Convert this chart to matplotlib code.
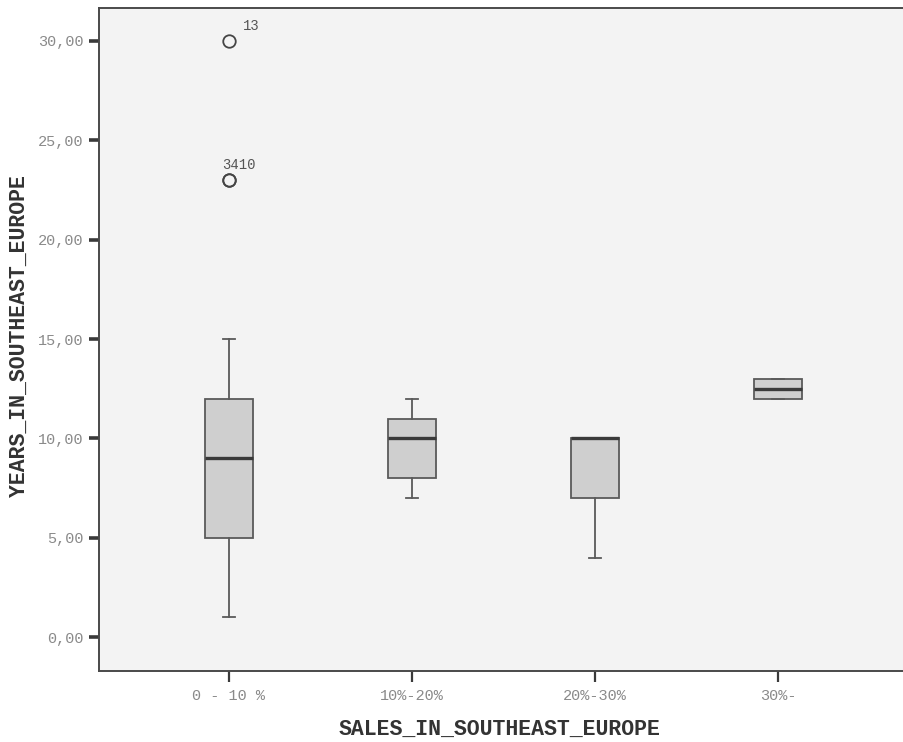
import matplotlib
matplotlib.use("Agg")
import matplotlib.pyplot as plt

# Groups and their box-plot summaries
categories = ["0 - 10 %", "10%-20%", "20%-30%", "30%-"]
whisker_low = [1.0, 7.0, 4.0, 12.0]
q1 = [5.0, 8.0, 7.0, 12.0]
median = [9.0, 10.0, 10.0, 12.5]
q3 = [12.0, 11.0, 10.0, 13.0]
whisker_high = [15.0, 12.0, 10.0, 13.0]

# Outlying cases: group index, value, case label
outlier_group = [0, 0, 0]
outlier_value = [30.0, 23.0, 23.0]
outlier_case = ["13", "34", "10"]

y_ticks = [0, 5, 10, 15, 20, 25, 30]
x_title = "SALES_IN_SOUTHEAST_EUROPE"
y_title = "YEARS_IN_SOUTHEAST_EUROPE"

mono = "Liberation Mono"

fig = plt.figure(figsize=(9.04, 7.42), dpi=100)
fig.patch.set_facecolor("white")
ax = fig.add_axes([99 / 904, 1 - 671 / 742, 1 - 99 / 904, (671 - 8) / 742])
ax.set_facecolor("#f3f3f3")

stats = []
for i in range(len(categories)):
    fl = [v for g, v in zip(outlier_group, outlier_value) if g == i]
    stats.append(dict(whislo=whisker_low[i], q1=q1[i], med=median[i],
                      q3=q3[i], whishi=whisker_high[i], fliers=fl))

positions = list(range(len(categories)))
edge = "#5a5a5a"
ax.bxp(stats, positions=positions, widths=0.26, patch_artist=True,
       boxprops=dict(facecolor="#cfcfcf", edgecolor=edge, linewidth=1.3),
       medianprops=dict(color="#3a3a3a", linewidth=2.4),
       whiskerprops=dict(color=edge, linewidth=1.3),
       capprops=dict(color=edge, linewidth=1.3),
       capwidths=0.07,
       flierprops=dict(marker="o", markersize=9, markerfacecolor="none",
                       markeredgecolor="#444444", markeredgewidth=1.3))

# Case labels next to outliers; cases sharing a value are joined into one label
grouped = {}
for g, v, lab in zip(outlier_group, outlier_value, outlier_case):
    grouped.setdefault((g, v), []).append(lab)
for (g, v), labs in grouped.items():
    text = "".join(labs)
    dx = 10 if len(labs) == 1 else -5
    ax.annotate(text, (g, v), xytext=(dx, 11), textcoords="offset points",
                fontsize=10, family=mono, color="#555555",
                ha="left", va="center")

ax.set_xlim(-130 / 183, 3 + 126 / 183)
ax.set_ylim(-1.70, 31.66)
ax.set_xticks(positions)
ax.set_xticklabels(categories)
ax.set_yticks(y_ticks)
ax.set_yticklabels([f"{t:.2f}".replace(".", ",") for t in y_ticks])

for lab in ax.get_xticklabels() + ax.get_yticklabels():
    lab.set_family(mono)
    lab.set_fontsize(11)
    lab.set_color("#8a8a8a")

ax.tick_params(axis="y", direction="out", length=7, width=2.6,
               color="#3a3a3a", pad=4)
ax.tick_params(axis="x", direction="out", length=8, width=1.6,
               color="#3a3a3a", pad=5)

for side in ["left", "bottom", "top"]:
    ax.spines[side].set_color("#4a4a4a")
    ax.spines[side].set_linewidth(1.4)
ax.spines["right"].set_visible(False)

ax.set_xlabel(x_title, family=mono, fontsize=15.5, fontweight="bold",
              color="#333333")
ax.set_ylabel(y_title, family=mono, fontsize=15.5, fontweight="bold",
              color="#333333")
ax.xaxis.label.set_va("center")
ax.yaxis.label.set_va("center")
ax.xaxis.set_label_coords((500 - 99) / 805, (671 - 729) / 663)
ax.yaxis.set_label_coords((19 - 99) / 805, (671 - 336) / 663)

fig.savefig("out.png", dpi=100, facecolor=fig.get_facecolor())
